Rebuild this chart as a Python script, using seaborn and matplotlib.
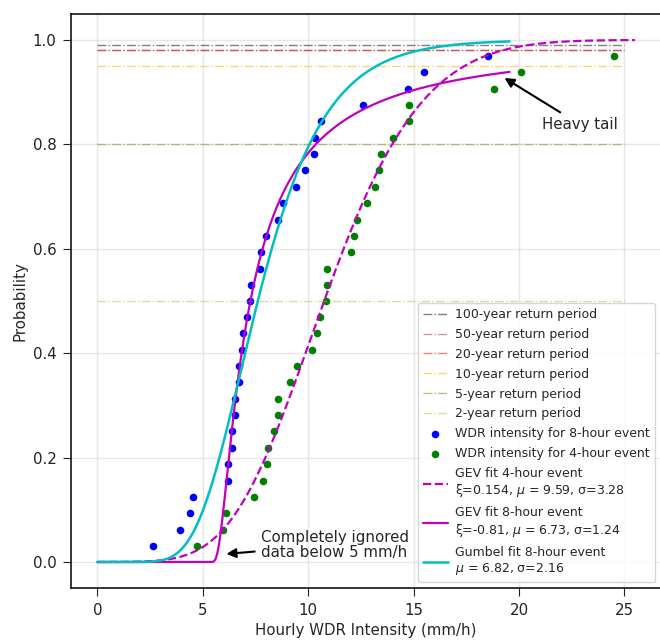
import numpy as np
import pandas as pd
import matplotlib
matplotlib.use("Agg")
import matplotlib.pyplot as plt
import seaborn as sns

# Empirical plotting positions shared by both samples
prob = [0.031, 0.062, 0.094, 0.125, 0.156, 0.188, 0.219, 0.250, 0.281, 0.312,
        0.344, 0.375, 0.406, 0.438, 0.469, 0.500, 0.531, 0.562, 0.594, 0.625,
        0.656, 0.688, 0.719, 0.750, 0.781, 0.812, 0.844, 0.875, 0.906, 0.938,
        0.969]

# Sorted hourly WDR intensities (mm/h)
wdr_8h = [2.62, 3.93, 4.38, 4.55, 6.19, 6.21, 6.38, 6.38, 6.52, 6.53,
          6.70, 6.74, 6.86, 6.92, 7.09, 7.25, 7.27, 7.73, 7.77, 7.98,
          8.55, 8.81, 9.40, 9.87, 10.28, 10.33, 10.62, 12.62, 14.75, 15.50,
          18.55]
wdr_4h = [4.72, 5.94, 6.11, 7.41, 7.85, 8.04, 8.10, 8.40, 8.59, 8.59,
          9.15, 9.46, 10.17, 10.44, 10.57, 10.84, 10.88, 10.91, 12.04, 12.18,
          12.30, 12.81, 13.18, 13.38, 13.44, 14.04, 14.76, 14.76, 18.82, 20.11,
          24.50]

# Fitted distribution parameters
gev_4h = dict(c=0.154, loc=9.59, scale=3.28)
gev_8h = dict(c=-0.81, loc=6.73, scale=1.24)
gumbel_8h = dict(loc=6.82, scale=2.16)

# Return-period reference levels
rp_labels = ["100-year return period", "50-year return period",
             "20-year return period", "10-year return period",
             "5-year return period", "2-year return period"]
rp_levels = [0.99, 0.98, 0.98, 0.95, 0.80, 0.50]
rp_colors = ["black", "brown", "red", "orange", "olive", "yellowgreen"]
rp_zorder = [1.5, 1.6, 1.4, 1.5, 1.5, 1.5]


def gev_cdf(x, c, loc, scale):
    z = (np.asarray(x) - loc) / scale
    t = np.clip(1.0 - c * z, 0.0, None)
    with np.errstate(divide="ignore", over="ignore"):
        return np.exp(-t ** (1.0 / c))


def gumbel_cdf(x, loc, scale):
    return np.exp(-np.exp(-(np.asarray(x) - loc) / scale))


sns.set_style("ticks")
plt.rcParams["font.family"] = ["DejaVu Sans"]
plt.rcParams["mathtext.fontset"] = "dejavusans"
plt.rcParams["font.size"] = 10.8
plt.rcParams["axes.labelsize"] = 10.8
plt.rcParams["xtick.labelsize"] = 10.8
plt.rcParams["ytick.labelsize"] = 10.8
plt.rcParams["axes.linewidth"] = 1.1
plt.rcParams["axes.edgecolor"] = "black"
plt.rcParams["xtick.major.size"] = 6
plt.rcParams["ytick.major.size"] = 6
plt.rcParams["xtick.major.pad"] = 4.5
plt.rcParams["ytick.major.pad"] = 4.5
plt.rcParams["xtick.color"] = "#222222"
plt.rcParams["ytick.color"] = "#222222"

fig = plt.figure(figsize=(6.6, 6.4), dpi=100)
ax = fig.add_axes([0.1076, 0.0811, 0.8943, 0.8972])

handles = []
for lab, lev, col, zo in zip(rp_labels, rp_levels, rp_colors, rp_zorder):
    h = ax.hlines(lev, 0, 25, colors=col, linestyles="-.", linewidth=1.0,
                  alpha=0.5, label=lab, zorder=zo)
    handles.append(h)

df8 = pd.DataFrame({"x": wdr_8h, "p": prob})
df4 = pd.DataFrame({"x": wdr_4h, "p": prob})
sns.scatterplot(data=df8, x="x", y="p", color="b", s=30, linewidth=0,
                ax=ax, label="WDR intensity for 8-hour event")
sns.scatterplot(data=df4, x="x", y="p", color="g", s=30, linewidth=0,
                ax=ax, label="WDR intensity for 4-hour event")
handles += ax.collections[-2:]

x4 = np.linspace(0, max(wdr_4h) + 1, 500)
x8 = np.linspace(0, max(wdr_8h) + 1, 500)
curves = pd.DataFrame({
    "x4": x4, "gev4": gev_cdf(x4, **gev_4h),
    "x8": x8, "gev8": gev_cdf(x8, **gev_8h), "gum8": gumbel_cdf(x8, **gumbel_8h),
})
lab4 = "GEV fit 4-hour event\nξ=0.154, $\\mu$ = 9.59, σ=3.28"
lab8 = "GEV fit 8-hour event\nξ=-0.81, $\\mu$ = 6.73, σ=1.24"
labg = "Gumbel fit 8-hour event\n$\\mu$ = 6.82, σ=2.16"
sns.lineplot(data=curves, x="x4", y="gev4", color="m", linestyle="--",
             linewidth=1.6, ax=ax, label=lab4)
sns.lineplot(data=curves, x="x8", y="gev8", color="m", linewidth=1.6,
             ax=ax, label=lab8)
sns.lineplot(data=curves, x="x8", y="gum8", color="c", linewidth=1.8,
             ax=ax, label=labg)
handles += ax.lines[-3:]

ax.set_xlim(-1.25, 26.75)
ax.set_ylim(-0.05, 1.05)
ax.set_xticks([0, 5, 10, 15, 20, 25])
ax.set_yticks([0.0, 0.2, 0.4, 0.6, 0.8, 1.0])
ax.grid(True, color="#b0b0b0", alpha=0.3, linewidth=1.0)
ax.set_xlabel("Hourly WDR Intensity (mm/h)", labelpad=4)
ax.set_ylabel("Probability", labelpad=4)

ax.annotate("Heavy tail", xy=(19.2, 0.93), xytext=(21.1, 0.838),
            ha="left", va="center",
            arrowprops=dict(arrowstyle="-|>", color="black", lw=1.5,
                            mutation_scale=14))
ax.annotate("Completely ignored\ndata below 5 mm/h", xy=(5.99, 0.015),
            xytext=(7.75, 0.033), ha="left", va="center", linespacing=1.0,
            arrowprops=dict(arrowstyle="-|>", color="black", lw=1.5,
                            mutation_scale=14))

ax.legend(handles=handles, labels=[h.get_label() for h in handles],
          loc="lower right", fontsize=9.0, framealpha=0.8,
          labelspacing=0.55, handletextpad=0.6)

fig.savefig("out.png", dpi=100)
